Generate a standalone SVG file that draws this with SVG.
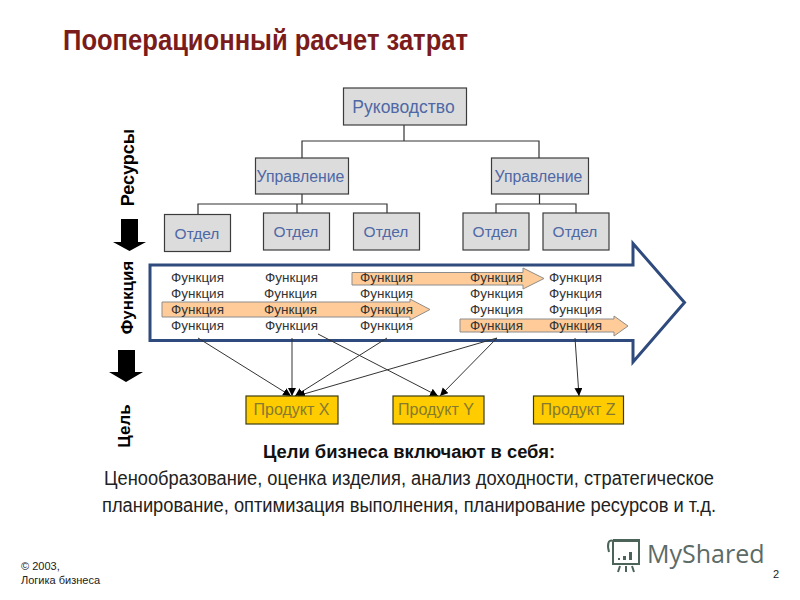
<svg xmlns="http://www.w3.org/2000/svg" width="800" height="600" viewBox="0 0 800 600">
<style>
text{font-family:"Liberation Sans",Arial,sans-serif}
.box{fill:#dcdcdc;stroke:#3c3c3c;stroke-width:1.2}
.bt{fill:#4f68a6;font-size:15.500px;text-anchor:middle}
.tree{fill:none;stroke:#333;stroke-width:1.2}
.f{fill:#333;font-size:13.500px}
.oa{fill:#ffcc99;stroke:#8c8c8c;stroke-width:1}
.pb{fill:#ffcc00;stroke:#3c3c10;stroke-width:1.2}
.pt{fill:#857a30;font-size:16px;text-anchor:middle}
.c{stroke:#333;stroke-width:1;fill:none;marker-end:url(#ah)}
.side{fill:#000;font-size:17px;font-weight:bold;text-anchor:middle}
.body{fill:#222;font-size:20px;text-anchor:middle}
.logo{fill:none;stroke:#4b6359;stroke-width:2}
</style>
<defs>
<marker id="ah" markerUnits="userSpaceOnUse" markerWidth="9" markerHeight="9" refX="8" refY="4" orient="auto"><path d="M0 0L8 4L0 8z" fill="#000"/></marker>
</defs>
<text id="title" x="63" y="50" font-size="30" font-weight="bold" fill="#7b1c1c" textLength="405" lengthAdjust="spacingAndGlyphs">Пооперационный расчет затрат</text>

<g id="tree-lines" class="tree">
<path class="tree" d="M404 125V141H302V158M404 141H539V158"/>
<path class="tree" d="M302 194V204H198V214M302 204H297V213M302 204H387V213"/>
<path class="tree" d="M539.500 194V204H496V213M539.500 204H576V213"/>
</g>
<g id="n-ruk"><rect class="box" x="343.500" y="88" width="123" height="37"/><text class="bt" x="403.500" y="113" style="font-size:17.500px">Руководство</text></g>
<g id="n-upr1"><rect class="box" x="255.500" y="158" width="93" height="36"/><text class="bt" x="300.500" y="182" style="font-size:15.800px">Управление</text></g>
<g id="n-upr2"><rect class="box" x="491.500" y="158" width="97" height="36"/><text class="bt" x="538.500" y="182" style="font-size:15.800px">Управление</text></g>
<g id="n-otd1"><rect class="box" x="164.500" y="214.500" width="66" height="37"/><text class="bt" x="197" y="239">Отдел</text></g>
<g id="n-otd2"><rect class="box" x="263.500" y="213" width="66" height="37"/><text class="bt" x="296" y="237">Отдел</text></g>
<g id="n-otd3"><rect class="box" x="353.500" y="213" width="66" height="37"/><text class="bt" x="386" y="237">Отдел</text></g>
<g id="n-otd4"><rect class="box" x="463" y="213" width="66" height="37"/><text class="bt" x="495" y="237">Отдел</text></g>
<g id="n-otd5"><rect class="box" x="543" y="213" width="66" height="37"/><text class="bt" x="575" y="237">Отдел</text></g>

<g id="side">
<text class="side" style="font-size:18px" transform="translate(134 167.500) rotate(-90)">Ресурсы</text>
<path d="M121 219H138V242H146L129.500 251L113 242H121z" fill="#000"/>
<text class="side" transform="translate(133 297.500) rotate(-90)">Функция</text>
<path d="M118 350H135V372H143L126 382L109 372H118z" fill="#000"/>
<text class="side" transform="translate(130 426) rotate(-90)">Цель</text>
</g>

<g id="big-arrow"><path d="M150 265H633V243.500L684.500 302.500L633 362V340.500H150z" fill="#fff" stroke="#2f4a7c" stroke-width="3"/></g>
<g id="orange">
<path class="oa" d="M352 272.500H523V268L544 278.500L523 289V285H352z"/>
<path class="oa" d="M162 302H410V299L430 309.500L410 320V317H162z"/>
<path class="oa" d="M460 319H614V316L628 326L614 336V332H460z"/>
</g>
<g id="funcs" class="f">
<text class="f" x="171" y="282">Функция</text><text class="f" x="265" y="282">Функция</text><text class="f" x="360" y="282">Функция</text><text class="f" x="470" y="282">Функция</text><text class="f" x="549" y="282">Функция</text>
<text class="f" x="171" y="298">Функция</text><text class="f" x="264" y="298">Функция</text><text class="f" x="360" y="298">Функция</text><text class="f" x="470" y="298">Функция</text><text class="f" x="549" y="298">Функция</text>
<text class="f" x="171" y="314">Функция</text><text class="f" x="264" y="314">Функция</text><text class="f" x="360" y="314">Функция</text><text class="f" x="470" y="314">Функция</text><text class="f" x="549" y="314">Функция</text>
<text class="f" x="171" y="330">Функция</text><text class="f" x="265" y="330">Функция</text><text class="f" x="360" y="330">Функция</text><text class="f" x="470" y="330">Функция</text><text class="f" x="549" y="330">Функция</text>
</g>

<g id="connectors">
<path class="c" d="M198 338L291 396"/>
<path class="c" d="M292 338V396"/>
<path class="c" d="M387 338L295 396"/>
<path class="c" d="M497 338L297 396"/>
<path class="c" d="M318 334L438 396"/>
<path class="c" d="M497 338L440 396"/>
<path class="c" d="M575 338L579 396"/>
</g>
<g id="p-x"><rect class="pb" x="246" y="396" width="92" height="28"/><text class="pt" x="291.500" y="415">Продукт X</text></g>
<g id="p-y"><rect class="pb" x="393" y="396" width="91" height="28"/><text class="pt" x="436" y="415">Продукт Y</text></g>
<g id="p-z"><rect class="pb" x="533.500" y="396" width="90" height="28"/><text class="pt" x="578" y="415">Продукт Z</text></g>

<text x="409" y="458" text-anchor="middle" font-size="18" font-weight="bold" fill="#111" textLength="292" lengthAdjust="spacingAndGlyphs">Цели бизнеса включают в себя:</text>
<text class="body" x="409" y="485" textLength="610" lengthAdjust="spacingAndGlyphs">Ценообразование, оценка изделия, анализ доходности, стратегическое</text>
<text class="body" x="409" y="512" textLength="614" lengthAdjust="spacingAndGlyphs">планирование, оптимизация выполнения, планирование ресурсов и т.д.</text>

<text x="21" y="570" font-size="11" fill="#222">© 2003,</text>
<text x="21" y="584" font-size="11" fill="#222">Логика бизнеса</text>
<text x="773" y="578" font-size="11" fill="#222">2</text>

<g id="logo">
<path class="logo" d="M613 541H639V564H613V541ZM613 541C608 539 607 545 609 552M613 540H640"/>
<path class="logo" d="M620 566L618 572M626 566V572M632 566L634 572"/>
<path d="M618 558h2v2h-2zM623 556h3v4h-3zM629 552h3v8h-3z" fill="#4b6359"/>
<text x="647" y="563" font-size="25" fill="#5c6b66" style="font-family:'Open Sans',sans-serif">MyShared</text>
</g>
</svg>
